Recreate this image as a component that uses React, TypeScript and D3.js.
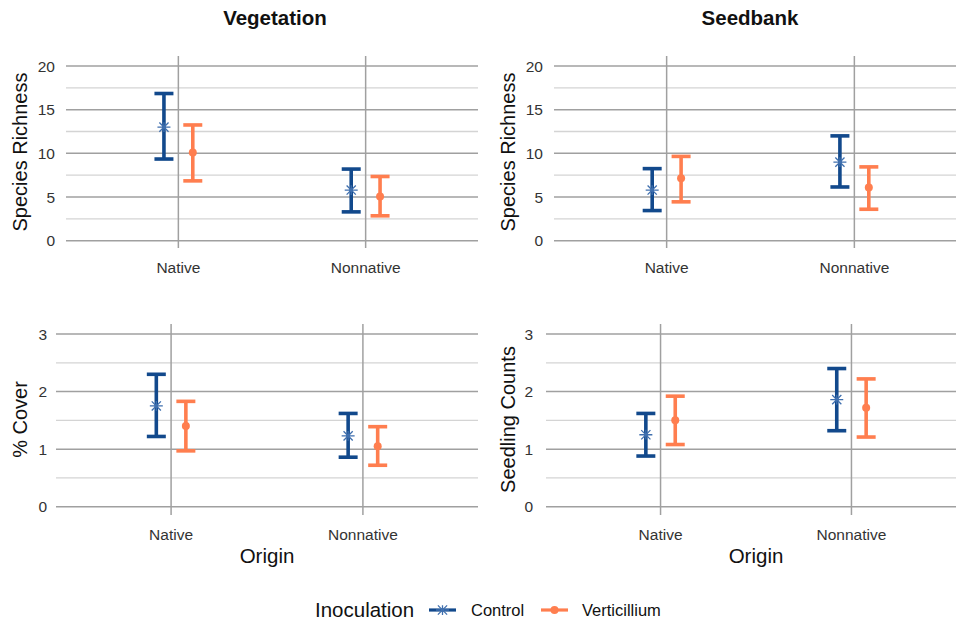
import { useEffect, useRef } from 'react';
import * as d3 from 'd3';

const origins = ['Native', 'Nonnative'];
const groups = ['Control', 'Verticillium'];

// [mean, lower, upper] for Native, Nonnative
const vegRichControl = [[13.0, 9.35, 16.85], [5.8, 3.3, 8.2]];
const vegRichVert = [[10.1, 6.85, 13.25], [5.05, 2.85, 7.35]];
const seedRichControl = [[5.8, 3.45, 8.25], [9.0, 6.15, 12.0]];
const seedRichVert = [[7.15, 4.45, 9.65], [6.1, 3.6, 8.45]];
const vegCoverControl = [[1.75, 1.22, 2.3], [1.23, 0.86, 1.62]];
const vegCoverVert = [[1.4, 0.97, 1.83], [1.05, 0.72, 1.39]];
const seedCountControl = [[1.25, 0.88, 1.62], [1.86, 1.32, 2.4]];
const seedCountVert = [[1.5, 1.08, 1.92], [1.72, 1.21, 2.22]];

const richTicks = [0, 5, 10, 15, 20];
const countTicks = [0, 1, 2, 3];

const BLUE = '#12498c';
const BLUE_LIGHT = '#3f6fae';
const ORANGE = '#ff7e4f';
const FONT = '"Liberation Sans", Arial, sans-serif';

type Panel = {
  box: [number, number, number, number]; // x0, x1, top, bottom
  yRange: [number, number];
  ticks: number[];
  ylab: string;
  ylabX: number;
  tickX: number;
  catY: number;
  control: number[][];
  vert: number[][];
};

const panels: Panel[] = [
  { box: [66, 478, 56, 248], yRange: [240.7, 66], ticks: richTicks, ylab: 'Species Richness', ylabX: 27, tickX: 55, catY: 273, control: vegRichControl, vert: vegRichVert },
  { box: [554, 967, 56, 248], yRange: [240.7, 66], ticks: richTicks, ylab: 'Species Richness', ylabX: 515, tickX: 543, catY: 273, control: seedRichControl, vert: seedRichVert },
  { box: [56, 478, 324, 515], yRange: [506.7, 334], ticks: countTicks, ylab: '% Cover', ylabX: 27, tickX: 47, catY: 540, control: vegCoverControl, vert: vegCoverVert },
  { box: [546, 966, 324, 515], yRange: [506.7, 334], ticks: countTicks, ylab: 'Seedling Counts', ylabX: 515, tickX: 533, catY: 540, control: seedCountControl, vert: seedCountVert },
];

function asterisk(cx: number, cy: number, r: number) {
  const p = d3.path();
  const d = r * Math.SQRT1_2;
  p.moveTo(cx - r, cy); p.lineTo(cx + r, cy);
  p.moveTo(cx - d, cy - d); p.lineTo(cx + d, cy + d);
  p.moveTo(cx - d, cy + d); p.lineTo(cx + d, cy - d);
  p.moveTo(cx, cy - r * 0.75); p.lineTo(cx, cy + r * 0.75);
  return p.toString();
}

export default function App() {
  const ref = useRef<SVGSVGElement | null>(null);
  useEffect(() => {
    const svg = d3.select(ref.current!);
    svg.selectAll('*').remove();
    svg.append('rect').attr('width', 956).attr('height', 622).attr('fill', '#fff');

    panels.forEach((p) => {
      const [x0, x1, top, bottom] = p.box;
      const g = svg.append('g');
      const x = d3.scalePoint<string>().domain(origins).range([x0, x1]).padding(0.6);
      const y = d3.scaleLinear().domain([0, d3.max(p.ticks)!]).range(p.yRange);
      const step = x.step();
      const dodge = d3.scalePoint<string>().domain(groups).range([-0.077 * step, 0.077 * step]);
      const minor = p.ticks.slice(1).map((t, i) => (t + p.ticks[i]) / 2);

      g.selectAll('line.minor').data(minor).enter().append('line')
        .attr('x1', x0).attr('x2', x1).attr('y1', (d) => y(d)).attr('y2', (d) => y(d))
        .attr('stroke', '#d4d4d4').attr('stroke-width', 1.3);
      g.selectAll('line.major').data(p.ticks).enter().append('line')
        .attr('x1', x0).attr('x2', x1).attr('y1', (d) => y(d)).attr('y2', (d) => y(d))
        .attr('stroke', '#a0a0a0').attr('stroke-width', 1.5);
      g.selectAll('line.vert').data(origins).enter().append('line')
        .attr('x1', (d) => x(d)!).attr('x2', (d) => x(d)!).attr('y1', top).attr('y2', bottom)
        .attr('stroke', '#a0a0a0').attr('stroke-width', 1.5);

      g.selectAll('text.ytick').data(p.ticks).enter().append('text')
        .attr('x', p.tickX).attr('y', (d) => y(d) + 5.5).attr('text-anchor', 'end')
        .attr('font-size', 15.5).attr('fill', '#333').attr('font-family', FONT).text((d) => d);
      g.selectAll('text.xtick').data(origins).enter().append('text')
        .attr('x', (d) => x(d)!).attr('y', p.catY).attr('text-anchor', 'middle')
        .attr('font-size', 15.5).attr('fill', '#333').attr('font-family', FONT).text((d) => d);
      g.append('text').attr('transform', `translate(${p.ylabX},${(top + bottom) / 2}) rotate(-90)`)
        .attr('text-anchor', 'middle').attr('font-size', 20).attr('fill', '#111').attr('font-family', FONT).text(p.ylab);

      const rows = groups.flatMap((grp) => origins.map((o, i) => {
        const v = grp === 'Control' ? p.control[i] : p.vert[i];
        return { grp, o, mean: v[0], lo: v[1], hi: v[2], cx: x(o)! + dodge(grp)! };
      }));
      const half = 9.5;
      rows.forEach((r) => {
        const col = r.grp === 'Control' ? BLUE : ORANGE;
        const b = g.append('g').attr('stroke', col).attr('stroke-width', 3.6).attr('fill', 'none');
        b.append('line').attr('x1', r.cx).attr('x2', r.cx).attr('y1', y(r.lo)).attr('y2', y(r.hi));
        b.append('line').attr('x1', r.cx - half).attr('x2', r.cx + half).attr('y1', y(r.lo)).attr('y2', y(r.lo));
        b.append('line').attr('x1', r.cx - half).attr('x2', r.cx + half).attr('y1', y(r.hi)).attr('y2', y(r.hi));
        if (r.grp === 'Control') {
          g.append('path').attr('d', asterisk(r.cx, y(r.mean), 6.5))
            .attr('stroke', BLUE_LIGHT).attr('stroke-width', 1.3).attr('fill', 'none');
        } else {
          g.append('circle').attr('cx', r.cx).attr('cy', y(r.mean)).attr('r', 4).attr('fill', ORANGE);
        }
      });
    });

    svg.append('text').attr('x', 275).attr('y', 25).attr('text-anchor', 'middle').attr('font-size', 20.5)
      .attr('font-weight', 'bold').attr('font-family', FONT).attr('fill', '#111').text('Vegetation');
    svg.append('text').attr('x', 750).attr('y', 25).attr('text-anchor', 'middle').attr('font-size', 20.5)
      .attr('font-weight', 'bold').attr('font-family', FONT).attr('fill', '#111').text('Seedbank');
    [267, 756].forEach((cx) => {
      svg.append('text').attr('x', cx).attr('y', 563).attr('text-anchor', 'middle').attr('font-size', 20.5)
        .attr('font-family', FONT).attr('fill', '#111').text('Origin');
    });

    // legend
    const lg = svg.append('g').attr('font-family', FONT);
    lg.append('text').attr('x', 315).attr('y', 617).attr('font-size', 20.5).attr('fill', '#111').text('Inoculation');
    const keys = [
      { grp: 'Control', x0: 429, tx: 471 },
      { grp: 'Verticillium', x0: 541, tx: 582 },
    ];
    keys.forEach((k) => {
      const col = k.grp === 'Control' ? BLUE : ORANGE;
      lg.append('line').attr('x1', k.x0).attr('x2', k.x0 + 27).attr('y1', 610).attr('y2', 610)
        .attr('stroke', col).attr('stroke-width', 3.2);
      if (k.grp === 'Control') {
        lg.append('path').attr('d', asterisk(k.x0 + 13.5, 610, 6.5)).attr('stroke', BLUE_LIGHT)
          .attr('stroke-width', 1.3).attr('fill', 'none');
      } else {
        lg.append('circle').attr('cx', k.x0 + 13.5).attr('cy', 610).attr('r', 4).attr('fill', ORANGE);
      }
      lg.append('text').attr('x', k.tx).attr('y', 616).attr('font-size', 16.5).attr('fill', '#111').text(k.grp);
    });
  }, []);
  return <svg ref={ref} width={956} height={622} style={{ position: 'absolute', left: 0, top: 0 }} />;
}
